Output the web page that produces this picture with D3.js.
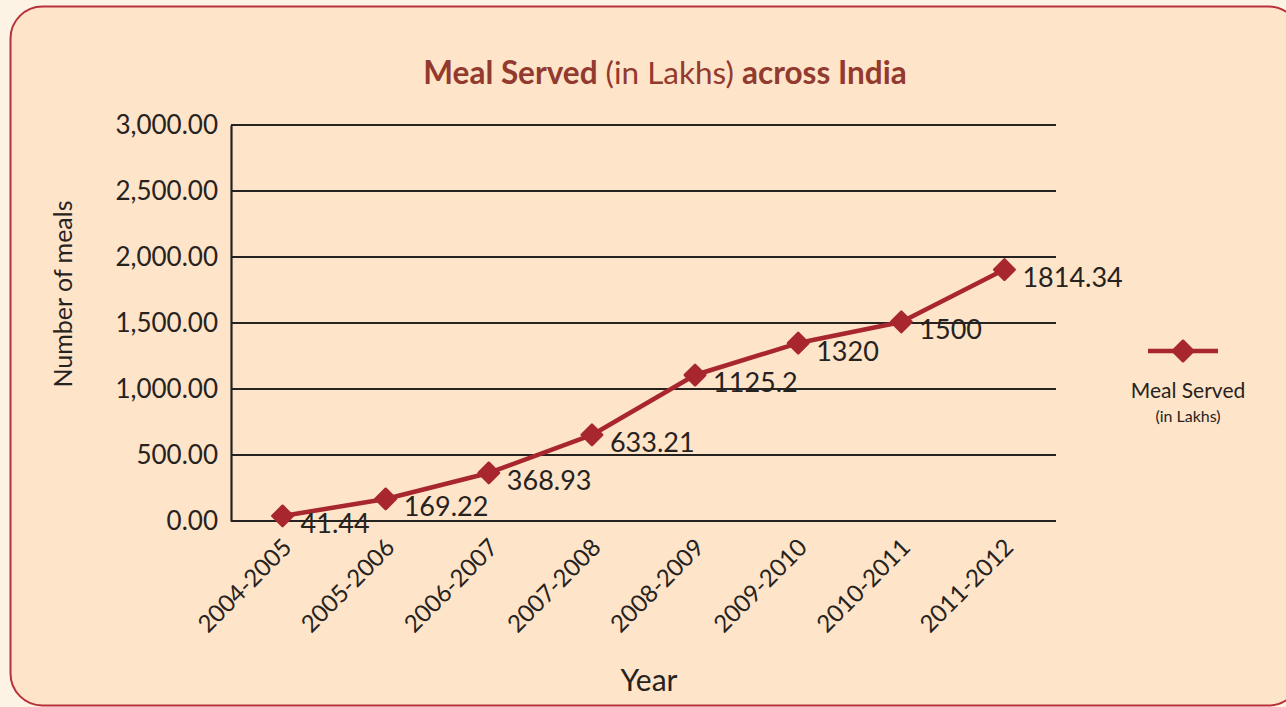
<!DOCTYPE html>
<html>
<head>
<meta charset="utf-8">
<script src="https://cdn.jsdelivr.net/npm/d3@7"></script>
<style>
  body { margin: 0; background: #fdf3e5; }
  svg { display: block; }
</style>
</head>
<body>
<div id="chart"></div>
<script>
// data
var years = ["2004-2005", "2005-2006", "2006-2007", "2007-2008",
             "2008-2009", "2009-2010", "2010-2011", "2011-2012"];
// values as they are plotted in the picture
var meals = [38, 167, 364, 652, 1106, 1348, 1508, 1905];
// values as printed next to the points
var mealLabels = ["41.44", "169.22", "368.93", "633.21", "1125.2", "1320", "1500", "1814.34"];
var yTicks = [0, 500, 1000, 1500, 2000, 2500, 3000];

var W = 1286, H = 707;
var margin = {top: 125, right: 230, bottom: 186, left: 231},
    width = W - margin.left - margin.right,
    height = H - margin.top - margin.bottom;

var red = "#a8272f", ink = "#262220", font = "Lato, 'Open Sans', sans-serif";

var root = d3.select("#chart").append("svg")
    .attr("width", W)
    .attr("height", H);

// panel with rounded border
root.append("rect")
    .attr("x", 10.5).attr("y", 6.5)
    .attr("width", 1290).attr("height", 699)
    .attr("rx", 32).attr("ry", 32)
    .attr("fill", "#fee4c9")
    .attr("stroke", "#b7313b")
    .attr("stroke-width", 2);

// title
var title = root.append("text")
    .attr("x", 665).attr("y", 84)
    .attr("text-anchor", "middle")
    .attr("font-family", font)
    .attr("font-size", 31.5)
    .attr("fill", "#933a2f");
title.append("tspan").attr("font-weight", 700).text("Meal Served");
title.append("tspan").attr("font-weight", 400).text(" (in Lakhs) ");
title.append("tspan").attr("font-weight", 700).text("across India");

var svg = root.append("g")
    .attr("transform", "translate(" + margin.left + "," + margin.top + ")");

var x = d3.scalePoint()
    .domain(years)
    .range([0, width])
    .padding(0.5);

var y = d3.scaleLinear()
    .domain([0, 3000])
    .range([height, 0]);

// gridlines
svg.selectAll(".grid")
  .data(yTicks)
  .enter()
  .append("line")
    .attr("x1", 0).attr("x2", width)
    .attr("y1", function(d) { return y(d); })
    .attr("y2", function(d) { return y(d); })
    .attr("stroke", ink)
    .attr("stroke-width", 2.2);

// Y axis
var yAxis = svg.append("g")
    .call(d3.axisLeft(y).tickValues(yTicks).tickSize(0).tickPadding(13)
      .tickFormat(d3.format(",.2f")));
yAxis.select(".domain").attr("stroke", ink).attr("stroke-width", 2.2);
yAxis.selectAll("text")
    .attr("font-family", font)
    .attr("font-size", 26)
    .attr("fill", ink);

// X axis
var xAxis = svg.append("g")
    .attr("transform", "translate(0," + height + ")")
    .call(d3.axisBottom(x).tickSize(0).tickPadding(0));
xAxis.select(".domain").remove();
xAxis.selectAll("text")
    .attr("font-family", font)
    .attr("font-size", 24)
    .attr("fill", ink)
    .attr("text-anchor", "end")
    .attr("dy", null)
    .attr("transform", "translate(10,28) rotate(-45)");

// axis titles
root.append("text")
    .attr("transform", "translate(72,294) rotate(-90)")
    .attr("text-anchor", "middle")
    .attr("font-family", font)
    .attr("font-size", 25)
    .attr("fill", ink)
    .text("Number of meals");

root.append("text")
    .attr("x", 649).attr("y", 691)
    .attr("text-anchor", "middle")
    .attr("font-family", font)
    .attr("font-size", 30)
    .attr("fill", ink)
    .text("Year");

// the line
var line = d3.line()
    .x(function(d, i) { return x(years[i]); })
    .y(function(d) { return y(d); });

svg.append("path")
    .datum(meals)
    .attr("d", line)
    .attr("fill", "none")
    .attr("stroke", red)
    .attr("stroke-width", 4.5)
    .attr("stroke-linejoin", "round");

var diamond = d3.symbol().type(d3.symbolSquare).size(210);

svg.selectAll(".dot")
  .data(meals)
  .enter()
  .append("path")
    .attr("d", diamond)
    .attr("transform", function(d, i) {
      return "translate(" + x(years[i]) + "," + y(d) + ") rotate(45)";
    })
    .attr("fill", red)
    .attr("stroke", red)
    .attr("stroke-width", 2.5)
    .attr("stroke-linejoin", "round");

// data labels
svg.selectAll(".lbl")
  .data(meals)
  .enter()
  .append("text")
    .attr("x", function(d, i) { return x(years[i]) + 18; })
    .attr("y", function(d) { return y(d) + 8; })
    .attr("dy", "0.35em")
    .attr("font-family", font)
    .attr("font-size", 27)
    .attr("fill", ink)
    .text(function(d, i) { return mealLabels[i]; });

// legend
var legend = root.append("g").attr("transform", "translate(1183,351)");
legend.append("line")
    .attr("x1", -35).attr("x2", 35)
    .attr("stroke", red)
    .attr("stroke-width", 4.5);
legend.append("path")
    .attr("d", diamond)
    .attr("transform", "rotate(45)")
    .attr("fill", red)
    .attr("stroke", red)
    .attr("stroke-width", 2.5)
    .attr("stroke-linejoin", "round");
legend.append("text")
    .attr("x", 5).attr("y", 47)
    .attr("text-anchor", "middle")
    .attr("font-family", font)
    .attr("font-size", 21)
    .attr("fill", ink)
    .text("Meal Served");
legend.append("text")
    .attr("x", 5).attr("y", 71)
    .attr("text-anchor", "middle")
    .attr("font-family", font)
    .attr("font-size", 16)
    .attr("fill", ink)
    .text("(in Lakhs)");
</script>
</body>
</html>
